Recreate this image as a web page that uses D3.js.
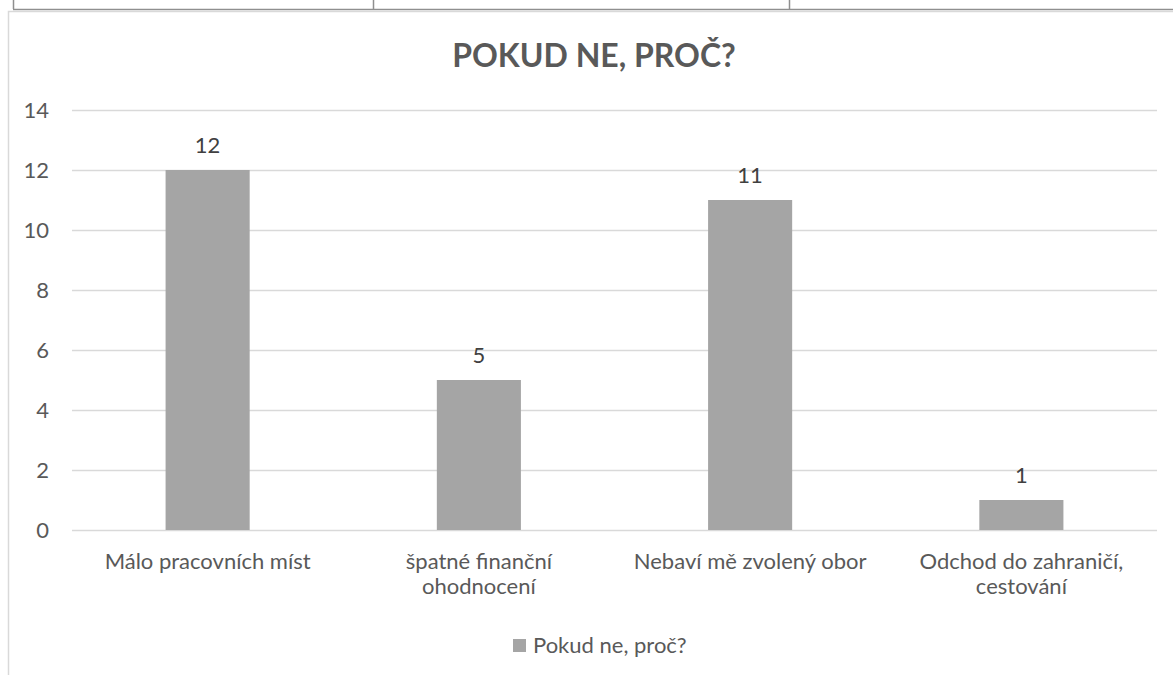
<!DOCTYPE html>
<html lang="cs">
<head>
    <meta charset="UTF-8">
    <title>Pokud ne, proč?</title>
    <style>
        body { margin: 0; background: #fff; }
        svg { display: block; font-family: Lato, "Open Sans", sans-serif; }
    </style>
</head>
<body>
    <div id="chart"></div>

    <script src="https://d3js.org/d3.v7.min.js"></script>
    <script>
        const categories = [
            'Málo pracovních míst',
            'špatné finanční\nohodnocení',
            'Nebaví mě zvolený obor',
            'Odchod do zahraničí,\ncestování'
        ]
        const values = [12, 5, 11, 1]
        const yTicks = [0, 2, 4, 6, 8, 10, 12, 14]
        const seriesName = 'Pokud ne, proč?'
        const title = 'POKUD NE, PROČ?'

        const width = 1173
        const height = 675
        const barColor = '#a5a5a5'
        const gridColor = '#d9d9d9'
        const textColor = '#595959'
        const labelColor = '#404040'
        const fontSize = 22

        const plot = { left: 72, right: 1157, top: 110, bottom: 530 }

        const svg = d3.select('#chart')
            .append('svg')
            .attr('width', width)
            .attr('height', height)

        // table borders above the chart
        const table = svg.append('g')
            .attr('stroke', '#8f8f8f')
            .attr('stroke-width', 1.5)
        table.append('line').attr('x1', 13).attr('x2', width).attr('y1', 9.5).attr('y2', 9.5)
        for (const x of [13.5, 373.5, 789.5]) {
            table.append('line').attr('x1', x).attr('x2', x).attr('y1', 0).attr('y2', 9)
        }

        // chart area border
        svg.append('rect')
            .attr('x', 8.5)
            .attr('y', 11.5)
            .attr('width', width + 20)
            .attr('height', height + 20)
            .attr('fill', 'none')
            .attr('stroke', gridColor)
            .attr('stroke-width', 1.5)

        const x = d3.scaleBand()
            .domain(categories)
            .range([plot.left, plot.right])
            .paddingInner(0.69)
            .paddingOuter(0.345)

        const y = d3.scaleLinear()
            .domain([0, 14])
            .range([plot.bottom, plot.top])

        // grid lines
        svg.append('g')
            .selectAll('line')
            .data(yTicks)
            .join('line')
            .attr('x1', plot.left)
            .attr('x2', plot.right)
            .attr('y1', d => Math.round(y(d)) + 0.5)
            .attr('y2', d => Math.round(y(d)) + 0.5)
            .attr('stroke', gridColor)
            .attr('stroke-width', 1.5)

        // y axis labels
        svg.append('g')
            .attr('fill', textColor)
            .attr('font-size', fontSize)
            .attr('text-anchor', 'end')
            .selectAll('text')
            .data(yTicks)
            .join('text')
            .attr('x', 49)
            .attr('y', d => y(d) + 7.5)
            .text(d => d)

        // bars
        svg.append('g')
            .selectAll('rect')
            .data(values)
            .join('rect')
            .attr('x', (d, i) => x(categories[i]))
            .attr('y', d => y(d))
            .attr('width', x.bandwidth())
            .attr('height', d => y(0) - y(d))
            .attr('fill', barColor)

        // value labels
        svg.append('g')
            .attr('fill', labelColor)
            .attr('font-size', fontSize)
            .attr('text-anchor', 'middle')
            .selectAll('text')
            .data(values)
            .join('text')
            .attr('x', (d, i) => x(categories[i]) + x.bandwidth() / 2)
            .attr('y', d => y(d) - 17)
            .text(d => d)

        // category labels, one text per line
        const catGroups = svg.append('g')
            .attr('fill', textColor)
            .attr('font-size', fontSize)
            .attr('text-anchor', 'middle')
            .selectAll('g')
            .data(categories)
            .join('g')
            .attr('transform', d => `translate(${x(d) + x.bandwidth() / 2}, ${plot.bottom + 39})`)
        catGroups.selectAll('text')
            .data(d => d.split('\n'))
            .join('text')
            .attr('y', (d, i) => i * 25)
            .text(d => d)

        // title
        svg.append('text')
            .attr('x', 594)
            .attr('y', 67)
            .attr('text-anchor', 'middle')
            .attr('fill', textColor)
            .attr('font-size', 32)
            .attr('font-weight', 'bold')
            .text(title)

        // legend
        const legend = svg.append('g').attr('transform', 'translate(513, 639)')
        legend.append('rect')
            .attr('width', 13)
            .attr('height', 13)
            .attr('fill', barColor)
        legend.append('text')
            .attr('x', 20)
            .attr('y', 14)
            .attr('fill', textColor)
            .attr('font-size', fontSize)
            .text(seriesName)
    </script>
</body>
</html>
